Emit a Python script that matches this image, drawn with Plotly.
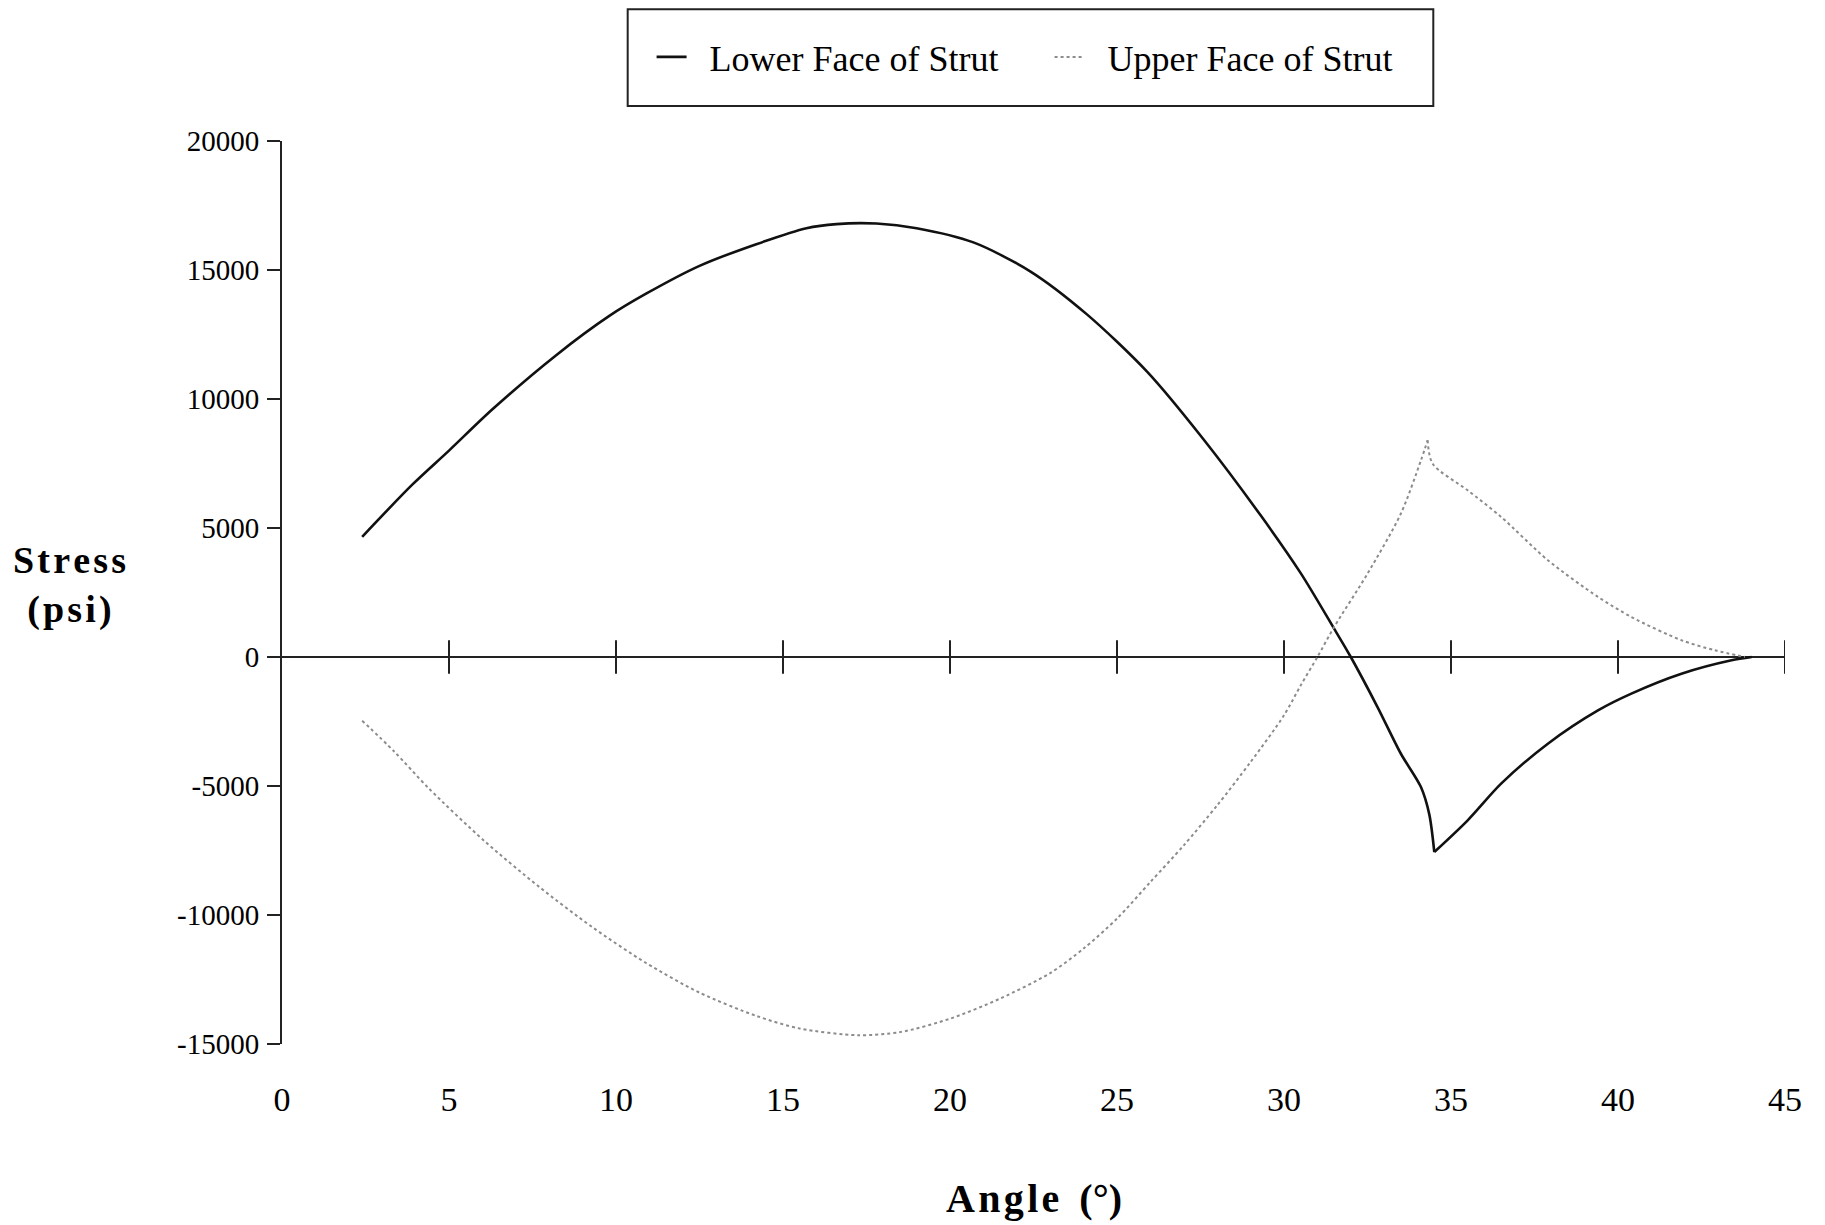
import numpy as np
import plotly.graph_objects as go

# ---- data ----
lower_x = [2.4, 3.9, 5.0, 6.3, 8.2, 9.8, 10.9, 12.5, 14.2, 15.7, 16.6, 17.8, 19.0,
           20.7, 22.4, 24.1, 25.9, 27.6, 29.3, 30.5, 31.5, 32.0, 32.8, 33.5, 34.1,
           34.35, 34.5, 35.5, 36.5, 37.9, 39.4, 40.4, 41.9, 43.4, 44.0]
lower_y = [4660, 6680, 8000, 9600, 11690, 13220, 14080, 15160, 16000, 16620, 16780, 16800, 16620,
           16070, 14950, 13280, 11060, 8420, 5490, 3250, 1100, 0, -1940, -3750, -5040,
           -6100, -7560, -6330, -4910, -3360, -2070, -1420, -650, -130, 0]

upper_x = [2.4, 3.35, 4.4, 6.05, 7.7, 9.3, 10.9, 12.5, 14.2, 15.5, 17.25, 18.5, 20.0,
           21.5, 23.0, 24.0, 25.0, 26.0, 27.0, 28.0, 29.0, 30.0, 30.5, 31.0, 31.5, 32.5,
           33.5, 34.1, 34.3, 34.45, 35.5, 36.5, 37.9, 39.4, 40.4, 41.9, 42.9, 43.8]
upper_y = [-2470, -3650, -5100, -7120, -8910, -10480, -11860, -13010, -13910, -14400, -14660, -14540, -14020,
           -13240, -12250, -11300, -10140, -8720, -7300, -5750, -4070, -2260, -1100, 0, 1160, 3230,
           5560, 7620, 8400, 7490, 6460, 5430, 3750, 2330, 1550, 650, 260, 0]

x_ticks = [0, 5, 10, 15, 20, 25, 30, 35, 40, 45]
y_ticks = [20000, 15000, 10000, 5000, 0, -5000, -10000, -15000]
cross_ticks = [5, 10, 15, 20, 25, 30, 35, 40, 45]

series_names = ["Lower Face of Strut", "Upper Face of Strut"]

FONT = "Liberation Serif, Times New Roman, serif"
HS = "\u200a"  # hair space for the letter-spaced titles
EN = "\u2002"  # gap between legend sample and label

fig = go.Figure()


def add_series(xs, ys, cusp, name, line):
    # draw as two smooth pieces meeting at the sharp cusp
    pieces = [(xs[:cusp + 1], ys[:cusp + 1]), (xs[cusp:], ys[cusp:])]
    for k, (px, py) in enumerate(pieces):
        fig.add_trace(go.Scatter(
            x=px, y=py, mode="lines", name=EN + name, legendgroup=name,
            showlegend=(k == 0), line=dict(shape="spline", smoothing=0.8, **line),
        ))


add_series(lower_x, lower_y, int(np.argmin(lower_y)), series_names[0],
           dict(color="#111111", width=2.6))
add_series(upper_x, upper_y, int(np.argmax(upper_y)), series_names[1],
           dict(color="#8c8c8c", width=2, dash="dot"))

# cross-ticks on the zero axis
fig.add_trace(go.Scatter(
    x=cross_ticks, y=[0] * len(cross_ticks), mode="markers", showlegend=False,
    hoverinfo="skip",
    marker=dict(symbol="line-ns", size=24, line=dict(color="#222222", width=2)),
))

fig.update_layout(
    width=1825, height=1225,
    margin=dict(l=282, r=40, t=141, b=181),
    paper_bgcolor="white", plot_bgcolor="white",
    font=dict(family=FONT, color="black"),
    showlegend=True,
    legend=dict(
        orientation="h", x=0.5107, xanchor="center", y=1.093, yanchor="middle",
        font=dict(family=FONT, size=36, color="black"),
        entrywidth=353, traceorder="normal",
        bgcolor="rgba(0,0,0,0)", borderwidth=0,
    ),
    xaxis=dict(
        range=[0, 45], tickvals=x_ticks, ticktext=[str(v) for v in x_ticks],
        showgrid=False, zeroline=False, showline=False, ticks="",
        ticklabelstandoff=32,
        tickfont=dict(family=FONT, size=34, color="black"),
    ),
    yaxis=dict(
        range=[-15000, 20000], tickvals=y_ticks, ticktext=[str(v) for v in y_ticks],
        showgrid=False, zeroline=True, zerolinecolor="#222222", zerolinewidth=2,
        showline=True, linecolor="#222222", linewidth=2,
        ticks="outside", ticklen=13, tickwidth=2, tickcolor="#222222",
        ticklabelstandoff=2,
        tickfont=dict(family=FONT, size=29, color="black"),
    ),
    shapes=[dict(
        type="rect", xref="paper", yref="paper",
        x0=0.230, x1=0.766, y0=1.0388, y1=1.146,
        line=dict(color="#222222", width=2), fillcolor="rgba(0,0,0,0)",
    )],
    annotations=[
        dict(text="<b>" + HS.join("Stress") + "</b><br><b>" + HS.join("(psi)") + "</b>",
             xref="paper", yref="paper",
             x=-0.1417, y=0.508, xanchor="center", yanchor="middle", showarrow=False,
             font=dict(family=FONT, size=38, color="black"), align="center"),
        dict(text="<b>" + HS.join("Angle") + "  (°)</b>", xref="paper", yref="paper",
             x=0.5, y=-0.171, xanchor="center", yanchor="middle", showarrow=False,
             font=dict(family=FONT, size=40, color="black")),
    ],
)

fig.write_html("out.html")
